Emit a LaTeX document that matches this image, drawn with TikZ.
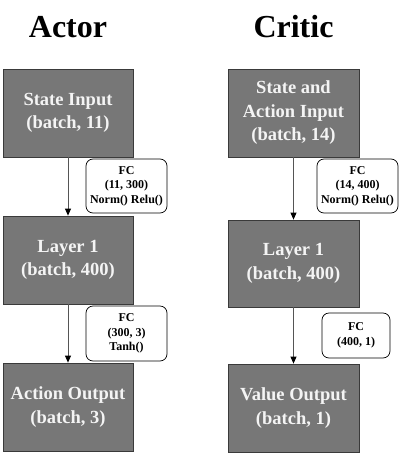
\documentclass[tikz,border=0pt]{standalone}
\usepackage{fontspec}
\setmainfont{Liberation Serif}
\usetikzlibrary{arrows.meta}
\definecolor{boxfill}{HTML}{777777}
\definecolor{boxedge}{HTML}{3A3A3A}
\definecolor{boxtext}{HTML}{F4F4F4}
\definecolor{arrowgray}{HTML}{555555}
\tikzset{
  layerbox/.style={draw=boxedge, line width=0.8pt, fill=boxfill, text=boxtext,
    minimum width=130pt, minimum height=88pt, inner sep=0pt, align=center,
    font=\fontsize{18.5}{23.5}\selectfont\bfseries},
  oplabel/.style={draw=black, line width=0.7pt, fill=white, rounded corners=7pt,
    minimum width=81pt, minimum height=54pt, inner sep=0pt, align=center,
    font=\fontsize{12}{14.5}\selectfont\bfseries},
  flow/.style={draw=arrowgray, line width=0.8pt, -{Triangle[length=7pt,width=6pt,color=black]}},
  title/.style={font=\fontsize{32}{36}\selectfont\bfseries, inner sep=0pt}
}
\begin{document}
\begin{tikzpicture}[x=1pt,y=-1pt]
\useasboundingbox (0,0) rectangle (401,453);
% titles
\node[title, anchor=base] (tA) at (68,37) {Actor};
\node[title, anchor=base] (tC) at (293.5,37) {Critic};
% actor column
\node[layerbox] (a1) at (68,113) {State Input\\(batch, 11)};
\node[layerbox] (a2) at (68,260) {Layer 1\\(batch, 400)};
\node[layerbox] (a3) at (68,407) {Action Output\\(batch, 3)};
\node[oplabel] (la1) at (126.5,186) {FC\\(11, 300)\\Norm() Relu()};
\node[oplabel, minimum height=55pt] (la2) at (126.5,333.5) {FC\\(300, 3)\\Tanh()};
\draw[flow] (a1) -- (a2);
\draw[flow] (a2) -- (a3);
% critic column
\node[layerbox, minimum width=131pt] (c1) at (293.5,113) {State and\\Action Input\\(batch, 14)};
\node[layerbox, minimum width=131pt, minimum height=87pt] (c2) at (293.5,263.5) {Layer 1\\(batch, 400)};
\node[layerbox, minimum width=131pt] (c3) at (293.5,408) {Value Output\\(batch, 1)};
\node[oplabel] (lc1) at (357.5,186) {FC\\(14, 400)\\Norm() Relu()};
\node[oplabel, minimum width=68pt, minimum height=45pt] (lc2) at (356,335.5) {FC\\(400, 1)};
\draw[flow] (c1) -- (c2);
\draw[flow] (c2) -- (c3);
\end{tikzpicture}
\end{document}
